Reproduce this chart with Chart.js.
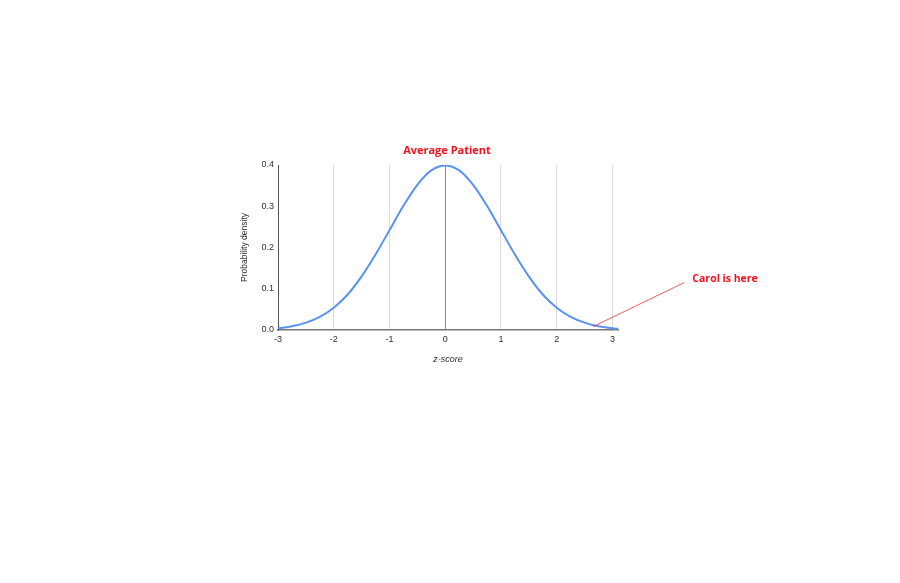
<!DOCTYPE html>
<html>
<head>
<meta charset="utf-8">
<script src="https://cdn.jsdelivr.net/npm/chart.js@4.4.1/dist/chart.umd.min.js"></script>
<style>
html,body{margin:0;padding:0;background:#fff;}
#wrap{position:relative;width:900px;height:583px;}
</style>
</head>
<body>
<div id="wrap"><canvas id="c" width="900" height="583"></canvas></div>
<script>
// Data
const zScores = [-3, -2.75, -2.5, -2.25, -2, -1.75, -1.5, -1.25, -1, -0.75, -0.5, -0.25, 0, 0.25, 0.5, 0.75, 1, 1.25, 1.5, 1.75, 2, 2.25, 2.5, 2.75, 3, 3.1];
const density = [0.004, 0.009, 0.018, 0.032, 0.054, 0.086, 0.130, 0.183, 0.242, 0.301, 0.352, 0.387, 0.399, 0.387, 0.352, 0.301, 0.242, 0.183, 0.130, 0.086, 0.054, 0.032, 0.018, 0.009, 0.004, 0.003];
const xTicks = [-3, -2, -1, 0, 1, 2, 3];
const yTicks = [0, 0.1, 0.2, 0.3, 0.4];
const chartTitle = 'Average Patient';
const noteText = 'Carol is here';
const notePoint = {x: 2.65, y: 0.008};
const noteEnd = {x: 4.29, y: 0.115};

const points = zScores.map((x, i) => ({x: x, y: density[i]}));

const annotationPlugin = {
  id: 'note',
  afterDraw(chart) {
    const ctx = chart.ctx;
    const xs = chart.scales.x, ys = chart.scales.y;
    const a = chart.chartArea;
    ctx.save();
    // title centred over the plot area
    ctx.fillStyle = '#f0131e';
    ctx.font = 'bold 11px "Open Sans", "Liberation Sans", sans-serif';
    ctx.textAlign = 'center';
    ctx.textBaseline = 'middle';
    ctx.fillText(chartTitle, (a.left + a.right) / 2 - 1, a.top - 14);
    // annotation
    const x1 = xs.getPixelForValue(notePoint.x), y1 = ys.getPixelForValue(notePoint.y);
    const x2 = xs.getPixelForValue(noteEnd.x), y2 = ys.getPixelForValue(noteEnd.y);
    ctx.strokeStyle = '#f0323c';
    ctx.lineWidth = 0.8;
    ctx.beginPath();
    ctx.moveTo(x1, y1);
    ctx.lineTo(x2, y2);
    ctx.stroke();
    ctx.font = 'bold 10.5px "Open Sans", "Liberation Sans", sans-serif';
    ctx.textAlign = 'left';
    ctx.fillText(noteText, x2 + 8, y2 - 4);
    ctx.restore();
  }
};

new Chart(document.getElementById('c'), {
  type: 'line',
  data: {
    datasets: [{
      data: points,
      borderColor: '#5a92f2',
      borderWidth: 2,
      pointRadius: 0,
      fill: false,
      cubicInterpolationMode: 'monotone'
    }]
  },
  options: {
    responsive: false,
    devicePixelRatio: 1,
    animation: false,
    layout: {padding: {left: 236, right: 282, top: 165, bottom: 218}},
    plugins: {
      legend: {display: false},
      tooltip: {enabled: false},
      title: {display: false}
    },
    scales: {
      x: {
        type: 'linear',
        min: -3,
        max: 3.1,
        afterBuildTicks: s => { s.ticks = xTicks.map(v => ({value: v})); },
        afterFit: s => { s.height = 35; },
        grid: {
          drawTicks: false,
          color: c => (c.tick && c.tick.value === 0) ? '#8a8a8a' : '#dcdcdc',
          lineWidth: 1
        },
        border: {color: '#777', width: 1.5},
        ticks: {
          padding: 4,
          color: '#2e2e2e',
          font: {family: '"Liberation Sans", Arial, sans-serif', size: 9},
          callback: v => String(v)
        },
        title: {
          display: true,
          text: 'z-score',
          color: '#2e2e2e',
          font: {family: '"Liberation Sans", Arial, sans-serif', size: 9, style: 'italic'},
          padding: {top: 0, bottom: 0}
        }
      },
      y: {
        min: 0,
        max: 0.4,
        afterBuildTicks: s => { s.ticks = yTicks.map(v => ({value: v})); },
        afterFit: s => { s.width = 42; },
        grid: {display: false, drawTicks: false},
        border: {color: '#555', width: 1},
        ticks: {
          padding: 4,
          color: '#2e2e2e',
          font: {family: '"Liberation Sans", Arial, sans-serif', size: 9},
          callback: v => Number(v).toFixed(1)
        },
        title: {
          display: true,
          text: 'Probability density',
          color: '#2e2e2e',
          font: {family: '"Liberation Sans", Arial, sans-serif', size: 8.5},
          padding: {top: 4, bottom: 0}
        }
      }
    }
  },
  plugins: [annotationPlugin]
});
</script>
</body>
</html>
